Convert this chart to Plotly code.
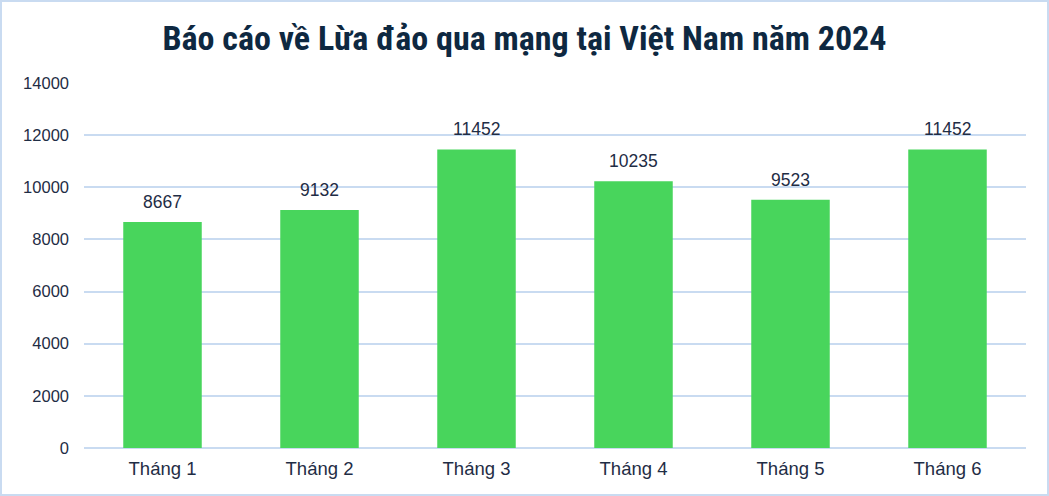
import plotly.graph_objects as go

categories = ["Tháng 1", "Tháng 2", "Tháng 3", "Tháng 4", "Tháng 5", "Tháng 6"]
values = [8667, 9132, 11452, 10235, 9523, 11452]
tick_vals = [0, 2000, 4000, 6000, 8000, 10000, 12000, 14000]
title_text = "Báo cáo về Lừa đảo qua mạng tại Việt Nam năm 2024"

W, H = 1049, 496
ML, MR, MT, MB = 84, 23, 83, 48
pw, ph = W - ML - MR, H - MT - MB

fig = go.Figure(go.Bar(
    x=categories, y=values,
    marker=dict(color="#48D55C", line=dict(width=0)),
    hoverinfo="skip",
))

for c, v in zip(categories, values):
    fig.add_annotation(x=c, y=v, text=str(v), showarrow=False, yanchor="bottom",
                       yshift=8,
                       font=dict(family="Liberation Sans, Arial", size=17.5, color="#1F2D45"))

fig.update_layout(
    width=W, height=H,
    margin=dict(l=ML, r=MR, t=MT, b=MB),
    paper_bgcolor="white", plot_bgcolor="white",
    bargap=0.5,
    showlegend=False,
    title=dict(text="<b>" + title_text + "</b>", x=0.5, xanchor="center",
               y=1 - 38 / H, yanchor="middle",
               font=dict(family="Liberation Sans Narrow, Roboto Condensed, Roboto", size=34, color="#0E2841")),
    xaxis=dict(showgrid=False, showline=False, ticks="", ticklabelstandoff=7,
               tickfont=dict(family="Liberation Sans, Arial", size=18.5, color="#1F2D45")),
    yaxis=dict(range=[0, 14000], tickvals=tick_vals, tickformat="d", showgrid=True, gridcolor="#C9DBF1",
               gridwidth=1.5, zeroline=True, zerolinecolor="#C9DBF1", zerolinewidth=1.5,
               showline=False, ticks="", ticklabelstandoff=14,
               tickfont=dict(family="Liberation Sans, Arial", size=16.5, color="#1F2D45")),
    shapes=[dict(type="rect", xref="paper", yref="paper",
                 x0=(1 - ML) / pw, x1=(W - 1 - ML) / pw,
                 y0=-(MB - 1) / ph, y1=1 + (MT - 1) / ph,
                 line=dict(color="#C9DBF1", width=2), fillcolor="rgba(0,0,0,0)")],
)

fig.write_html("out.html", config={"displayModeBar": False},
               post_script="document.body.style.margin='0';document.body.style.overflow='hidden';")
